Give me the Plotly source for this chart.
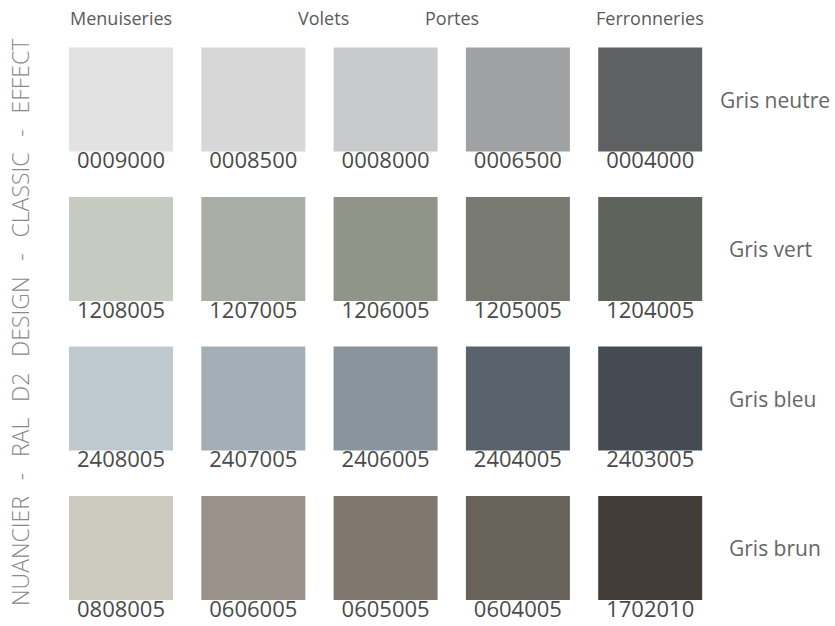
import plotly.graph_objects as go

# --- data ---
columns = ["Menuiseries", "Volets", "Portes", "Ferronneries"]
column_header_pos = [0, 1.53, 2.5, 4]
row_names = ["Gris neutre", "Gris vert", "Gris bleu", "Gris brun"]
codes = [
    ["0009000", "0008500", "0008000", "0006500", "0004000"],
    ["1208005", "1207005", "1206005", "1205005", "1204005"],
    ["2408005", "2407005", "2406005", "2404005", "2403005"],
    ["0808005", "0606005", "0605005", "0604005", "1702010"],
]
swatch_colors = [
    ["#e1e2e1", "#d7d7d7", "#c8c9cb", "#a0a1a3", "#5f6062"],
    ["#c6cbc1", "#a8aea6", "#909489", "#787a72", "#5e635b"],
    ["#bdc9cf", "#a4aeb6", "#8a949d", "#59616b", "#454b52"],
    ["#ccc9be", "#9a918b", "#80776f", "#68625a", "#433d37"],
]
title_parts = ["NUANCIER", "-", "RAL", "D2", "DESIGN", "-", "CLASSIC", "-", "EFFECT"]

W, H = 835, 626
col_px0, col_step = 121, 132.3
row_px0, row_step = 99.5, 149.5
x0 = -col_px0 / col_step
x1 = x0 + W / col_step
ytop = -row_px0 / row_step
ybot = ytop + H / row_step

xs, ys, cols, txt = [], [], [], []
for r, row in enumerate(swatch_colors):
    for c, col in enumerate(row):
        xs.append(c)
        ys.append(r)
        cols.append(col)
        txt.append(codes[r][c])

fig = go.Figure()
fig.add_trace(go.Scatter(
    x=xs, y=ys, mode="markers",
    marker=dict(symbol="square", size=104, color=cols, line=dict(width=0)),
    hoverinfo="skip", showlegend=False,
))
label_off = 63 / row_step
fig.add_trace(go.Scatter(
    x=xs, y=[y + label_off for y in ys], mode="text", text=txt,
    textposition="middle center",
    textfont=dict(family="Open Sans, sans-serif", size=22, color="#4a4a4a"),
    hoverinfo="skip", showlegend=False, cliponaxis=False,
))

annotations = []
for name, pos in zip(columns, column_header_pos):
    annotations.append(dict(
        x=pos, y=1 - 18 / H, xref="x", yref="paper", text=name, showarrow=False,
        font=dict(family="Open Sans, sans-serif", size=18, color="#5a5a5a"),
        xanchor="center", yanchor="middle"))
for r, name in enumerate(row_names):
    annotations.append(dict(
        x=4 + (718 - 650) / col_step if r == 0 else 4 + (727 - 650) / col_step,
        y=r, xref="x", yref="y", text=name, showarrow=False,
        font=dict(family="Open Sans, sans-serif", size=21, color="#666666"),
        xanchor="left", yanchor="middle"))
annotations.append(dict(
    x=20 / W, y=1 - 323 / H, xref="paper", yref="paper",
    text="\u00a0\u2009\u00a0".join(title_parts),
    showarrow=False, textangle=-90,
    font=dict(family="Open Sans, sans-serif", size=23, color="#8a8a8a", weight=300),
    xanchor="center", yanchor="middle"))

fig.update_layout(
    width=W, height=H, margin=dict(l=0, r=0, t=0, b=0),
    paper_bgcolor="white", plot_bgcolor="white",
    xaxis=dict(range=[x0, x1], visible=False, fixedrange=True),
    yaxis=dict(range=[ybot, ytop], visible=False, fixedrange=True),
    annotations=annotations,
)
fig.write_html("out.html", config={"displayModeBar": False},
               post_script="document.body.style.margin='0';document.body.style.overflow='hidden';")
